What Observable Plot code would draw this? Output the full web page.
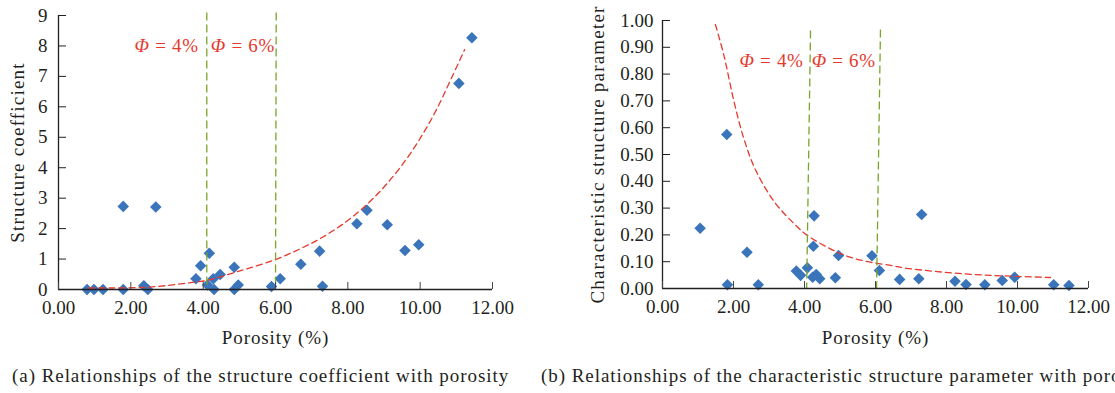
<!DOCTYPE html>
<html><head><meta charset="utf-8">
<script src="https://cdn.jsdelivr.net/npm/d3@7"></script>
<script src="https://cdn.jsdelivr.net/npm/@observablehq/plot@0.6"></script>
<style>
html,body{margin:0;padding:0;background:#fff;overflow:hidden;}
#wrap{position:relative;width:1115px;height:393px;font-family:"Liberation Serif",serif;color:#231f20;}
.panel{position:absolute;top:0;}
.cap{position:absolute;top:364px;font-size:19px;line-height:24px;white-space:nowrap;letter-spacing:0.95px;}
.xlab text{letter-spacing:0.9px;}
.ylab text{letter-spacing:1.2px;}
.ann text{letter-spacing:0.7px;}
</style></head><body>
<div id="wrap">
  <div id="pa" class="panel" style="left:0px"></div>
  <div id="pb" class="panel" style="left:560px"></div>
  <div class="cap" style="left:12px">(a) Relationships of the structure coefficient with porosity</div>
  <div class="cap" style="left:541px">(b) Relationships of the characteristic structure parameter with porosity</div>
</div>
<script>
// ---------- data: panel (a) ----------
const aPorosity = [0.79,0.98,1.23,1.79,1.79,2.69,2.36,2.47,3.80,3.93,4.17,4.12,4.30,4.28,4.47,4.86,4.86,4.97,5.89,6.13,6.70,7.22,7.30,8.25,8.53,9.09,9.58,9.96,11.07,11.43];
const aCoef     = [0,0,0,0,2.73,2.71,0.12,0,0.35,0.78,1.19,0.15,0,0.35,0.49,0.73,0,0.15,0.10,0.35,0.83,1.26,0.11,2.16,2.60,2.13,1.28,1.47,6.77,8.27];
const aFitX = [0.84,1.5,2.36,3.0,3.75,4.12,5.04,5.97,6.69,7.26,7.9,8.55,9.1,9.66,10.12,10.49,10.86,11.23];
const aFitY = [0.05,0.05,0.07,0.13,0.24,0.30,0.62,0.97,1.34,1.69,2.18,2.82,3.50,4.35,5.20,6.00,6.93,7.88];
const aLineX1 = [4.1, 6.02], aLineX2 = [4.1, 6.0], aLineTop = [9.1, 9.1];
const aYTicks = [0,1,2,3,4,5,6,7,8,9];
const aAnnY = 8;

// ---------- data: panel (b) ----------
const bPorosity = [1.06,1.81,1.83,2.38,2.70,3.77,3.89,4.08,4.23,4.33,4.43,4.25,4.27,4.87,4.96,5.90,6.11,6.68,7.22,7.30,8.24,8.55,9.08,9.57,9.92,11.02,11.45];
const bParam    = [0.225,0.575,0.014,0.135,0.014,0.065,0.049,0.077,0.042,0.052,0.036,0.158,0.271,0.040,0.123,0.122,0.067,0.034,0.036,0.276,0.027,0.015,0.014,0.030,0.042,0.014,0.011];
const bFitX = [1.49,1.73,2.01,2.29,2.63,3.17,3.76,4.06,4.70,5.26,5.86,6.48,6.80,7.74,8.68,9.61,10.93];
const bFitY = [0.985,0.87,0.70,0.56,0.44,0.32,0.235,0.20,0.15,0.118,0.098,0.085,0.077,0.063,0.053,0.047,0.041];
const bLineX1 = [4.17, 6.14], bLineX2 = [4.06, 6.03], bLineTop = [0.963, 0.966];
const bYTicks = [0,0.1,0.2,0.3,0.4,0.5,0.6,0.7,0.8,0.9,1.0];
const bAnnY = 0.85;

const xTicks = [0,2,4,6,8,10,12];
const annLabels = ["Φ = 4%", "Φ = 6%"];
const xLabel = "Porosity (%)";
const aYLabel = "Structure coefficient";
const bYLabel = "Characteristic structure parameter";

const BLUE = "#3a75bb", RED = "#e5392d", GREEN = "#7aa52a", INK = "#231f20";
const fmt2 = d3.format(".2f");

function panel(o) {
  const pts = o.px.map((x, i) => ({x, y: o.py[i]}));
  const fit = o.fx.map((x, i) => ({x, y: o.fy[i]}));
  const vl = o.lx1.map((x, i) => ({x1: x, x2: o.lx2[i], y1: o.ltop[i], y2: 0}));
  const annEnd = [{x: o.lx2[0], y: o.annY, t: annLabels[0]}];
  const annStart = [{x: o.lx2[0], y: o.annY, t: annLabels[1]}];
  const svg = Plot.plot({
    width: o.width, height: 350,
    marginLeft: o.ml, marginRight: o.mr, marginTop: o.mt, marginBottom: 350 - o.bottom,
    x: {domain: [0, 12]},
    y: {domain: o.yDomain},
    style: {fontFamily: "Liberation Serif", fontSize: "19px", color: INK, background: "white", overflow: "visible"},
    marks: [
      Plot.dot(pts, {x: "x", y: "y", symbol: "diamond2", r: 5.2, fill: BLUE, stroke: "none"}),
      Plot.line(fit, {x: "x", y: "y", curve: "catmull-rom", stroke: RED, strokeWidth: 1.3, strokeDasharray: "6,4"}),
      Plot.link(vl, {x1: "x1", x2: "x2", y1: "y1", y2: "y2", stroke: GREEN, strokeWidth: 1.3, strokeDasharray: "8,4"}),
      Plot.ruleY([0], {stroke: INK, strokeWidth: 1.3}),
      Plot.ruleX([0], {stroke: INK, strokeWidth: 1.3}),
      Plot.axisX({ticks: xTicks, tickSize: 7, dy: -7, fill: "none", label: null, stroke: "#444"}),
      Plot.axisX({ticks: xTicks, tickSize: 0, tickPadding: 11, tickFormat: fmt2, label: null}),
      Plot.axisY({ticks: o.yTicks, tickSize: 8, dx: 8, fill: "none", label: null, stroke: INK}),
      Plot.axisY({ticks: o.yTicks, tickSize: 0, tickPadding: o.yPad, tickFormat: o.yFmt, label: null}),
      Plot.text(annEnd, {x: "x", y: "y", text: "t", textAnchor: "end", dx: o.annDx1, fill: RED, fontSize: 19, className: "ann"}),
      Plot.text(annStart, {x: "x", y: "y", text: "t", textAnchor: "start", dx: o.annDx2, fill: RED, fontSize: 19, className: "ann"}),
      Plot.text([xLabel], {text: d => d, frameAnchor: "bottom", textAnchor: "middle", lineAnchor: "middle", dy: o.xlDy, fill: INK, className: "xlab"}),
      Plot.text([o.yLabel], {text: d => d, frameAnchor: "left", textAnchor: "middle", lineAnchor: "middle", dx: o.ylDx, rotate: -90, fill: INK, className: "ylab"})
    ]
  });
  svg.querySelectorAll("text").forEach(t => {
    const s = t.textContent;
    if (s.startsWith("Φ")) {
      t.textContent = "";
      const a = document.createElementNS("http://www.w3.org/2000/svg", "tspan");
      a.setAttribute("font-style", "italic"); a.textContent = "Φ";
      const b = document.createElementNS("http://www.w3.org/2000/svg", "tspan");
      b.textContent = s.slice(1);
      t.appendChild(a); t.appendChild(b);
    }
  });
  return svg;
}

document.getElementById("pa").appendChild(panel({
  px: aPorosity, py: aCoef, fx: aFitX, fy: aFitY, lx1: aLineX1, lx2: aLineX2, ltop: aLineTop,
  width: 530, ml: 58, mr: 38, mt: 15, bottom: 289, yDomain: [0, 9], yTicks: aYTicks, yFmt: d3.format("d"), yPad: 11,
  annY: aAnnY, annDx1: -8, annDx2: 4, xlDy: 48, ylDx: -41, yLabel: aYLabel
}));
document.getElementById("pb").appendChild(panel({
  px: bPorosity, py: bParam, fx: bFitX, fy: bFitY, lx1: bLineX1, lx2: bLineX2, ltop: bLineTop,
  width: 555, ml: 102, mr: 27, mt: 20, bottom: 288, yDomain: [0, 1], yTicks: bYTicks, yFmt: fmt2, yPad: 9,
  annY: bAnnY, annDx1: -3, annDx2: 5, xlDy: 49, ylDx: -65, yLabel: bYLabel
}));
</script>
</body></html>
